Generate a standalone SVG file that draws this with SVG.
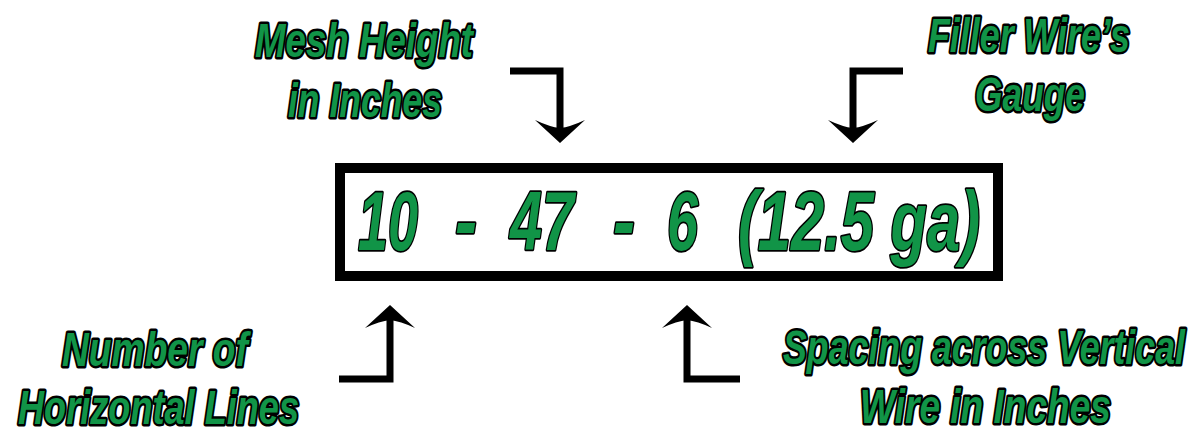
<svg xmlns="http://www.w3.org/2000/svg" width="1199" height="434" viewBox="0 0 1199 434">
<style>
  .lbl { font-family: "Liberation Sans", Arial, sans-serif; font-weight: bold; font-style: italic; font-size: 49px; fill: #119447; stroke: #000; stroke-width: 5; stroke-linejoin: round; paint-order: stroke; }
  .big { font-family: "Liberation Sans", Arial, sans-serif; font-weight: bold; font-style: italic; font-size: 84px; fill: #119447; stroke: #000; stroke-width: 3.5; stroke-linejoin: round; paint-order: stroke; }
  .wire { fill: none; stroke: #000; stroke-width: 7; stroke-linejoin: miter; stroke-linecap: butt; }
  .head { fill: #000; }
</style>
<defs>
  <path id="ah" d="M0,0 L-25,-23 Q-10,-16 0,-15 Q10,-16 25,-23 Z"/>
</defs>
<rect width="1199" height="434" fill="#fff"/>
<g id="connectors">
  <path class="wire" d="M510,71 H560 V128"/>
  <use href="#ah" class="head" transform="translate(560,143)"/>
  <path class="wire" d="M903,71 H853 V128"/>
  <use href="#ah" class="head" transform="translate(853,143)"/>
  <path class="wire" d="M339,379 H390 V320"/>
  <use href="#ah" class="head" transform="translate(390,305) rotate(180)"/>
  <path class="wire" d="M740,379 H687 V320"/>
  <use href="#ah" class="head" transform="translate(687,305) rotate(180)"/>
</g>
<g id="code">
  <rect x="340" y="168" width="658" height="108" fill="#fff" stroke="#000" stroke-width="10"/>
  <text class="big" x="358" y="250" textLength="60" lengthAdjust="spacingAndGlyphs">10</text>
  <text class="big" x="455" y="250" textLength="22" lengthAdjust="spacingAndGlyphs">-</text>
  <text class="big" x="510" y="250" textLength="64" lengthAdjust="spacingAndGlyphs">47</text>
  <text class="big" x="613" y="250" textLength="22" lengthAdjust="spacingAndGlyphs">-</text>
  <text class="big" x="667" y="250" textLength="31" lengthAdjust="spacingAndGlyphs">6</text>
  <text class="big" x="738" y="250" textLength="242" lengthAdjust="spacingAndGlyphs">(12.5 ga)</text>
</g>
<g id="mesh-height">
  <text class="lbl" transform="translate(255,57) scale(0.72,1)" textLength="302.8" lengthAdjust="spacingAndGlyphs">Mesh Height</text>
  <text class="lbl" transform="translate(288,117) scale(0.72,1)" textLength="213.9" lengthAdjust="spacingAndGlyphs">in Inches</text>
</g>
<g id="filler-gauge">
  <text class="lbl" transform="translate(928,52) scale(0.72,1)" textLength="280.6" lengthAdjust="spacingAndGlyphs">Filler Wire’s</text>
  <text class="lbl" transform="translate(975,111) scale(0.72,1)" textLength="152.8" lengthAdjust="spacingAndGlyphs">Gauge</text>
</g>
<g id="horizontal-lines">
  <text class="lbl" transform="translate(62,366) scale(0.72,1)" textLength="258.3" lengthAdjust="spacingAndGlyphs">Number of</text>
  <text class="lbl" transform="translate(18,424) scale(0.72,1)" textLength="390.3" lengthAdjust="spacingAndGlyphs">Horizontal Lines</text>
</g>
<g id="spacing">
  <text class="lbl" transform="translate(783,364) scale(0.72,1)" textLength="558.3" lengthAdjust="spacingAndGlyphs">Spacing across Vertical</text>
  <text class="lbl" transform="translate(860,423) scale(0.72,1)" textLength="348.6" lengthAdjust="spacingAndGlyphs">Wire in Inches</text>
</g>
</svg>
